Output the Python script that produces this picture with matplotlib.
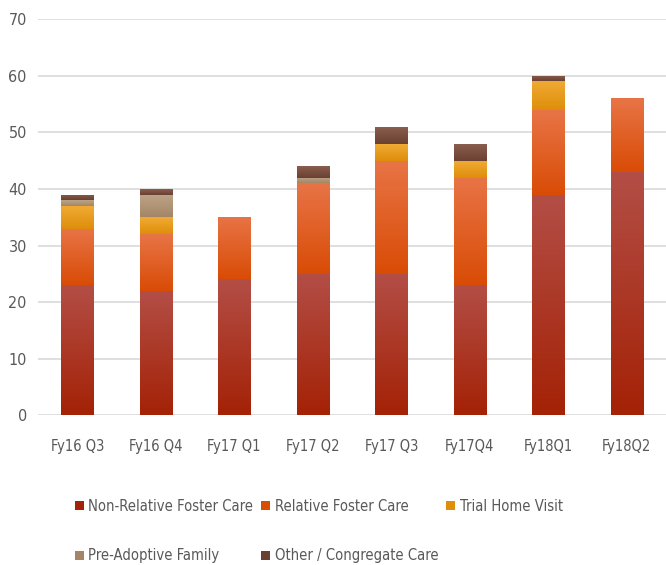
import matplotlib.pyplot as plt
import numpy as np
from matplotlib.colors import to_rgb

quarters = ["Fy16 Q3", "Fy16 Q4", "Fy17 Q1", "Fy17 Q2", "Fy17 Q3", "Fy17Q4", "Fy18Q1", "Fy18Q2"]
non_relative = [23, 22, 24, 25, 25, 23, 39, 43]
relative = [10, 10, 11, 16, 20, 19, 15, 13]
trial_home = [4, 3, 0, 0, 3, 3, 5, 0]
pre_adoptive = [1, 4, 0, 1, 0, 0, 0, 0]
other_congregate = [1, 1, 0, 2, 3, 3, 1, 0]

series = [
    ("Non-Relative Foster Care", non_relative, "#a42206", "#b34e46"),
    ("Relative Foster Care", relative, "#d94c06", "#e87446"),
    ("Trial Home Visit", trial_home, "#de8e0a", "#f0aa34"),
    ("Pre-Adoptive Family", pre_adoptive, "#a48666", "#bca488"),
    ("Other / Congregate Care", other_congregate, "#6a4032", "#8a5e4e"),
]

plt.rcParams['font.family'] = ['DejaVu Sans']
plt.rcParams['font.stretch'] = 'condensed'

fig = plt.figure(figsize=(6.66, 5.65), dpi=100)
ax = fig.add_axes([0.057, 0.265, 0.943, 0.701])

x = np.arange(len(quarters))
bottom = np.zeros(len(quarters))
handles = []
for name, vals, dark, light in series:
    vals = np.array(vals, dtype=float)
    bars = ax.bar(x, vals, 0.41, bottom=bottom, color=dark, label=name,
                  linewidth=0, zorder=2)
    handles.append(bars)
    # gradient inside each segment, darker at the bottom
    c0 = np.array(to_rgb(dark))
    c1 = np.array(to_rgb(light))
    t = np.linspace(0, 1, 64)[:, None]
    grad = (c0 * (1 - t) + c1 * t)[:, None, :]
    for rect in bars:
        h = rect.get_height()
        if h <= 0:
            continue
        x0, y0 = rect.get_x(), rect.get_y()
        im = ax.imshow(grad, extent=[x0, x0 + rect.get_width(), y0, y0 + h],
                       origin='lower', aspect='auto', zorder=2.5,
                       interpolation='bilinear')
        im.set_clip_path(rect)
    bottom += vals

ax.set_xlim(-0.5, len(quarters) - 0.5)
ax.set_ylim(0, 70)
ax.set_yticks(range(0, 71, 10))
ax.set_xticks(x)
ax.set_xticklabels(quarters)
ax.yaxis.grid(True, color="#d9d9d9", linewidth=1.2, zorder=0)
ax.set_axisbelow(True)
for s in ax.spines.values():
    s.set_visible(False)
ax.tick_params(length=0, labelsize=10.5, colors="#595959")
ax.tick_params(axis='y', labelsize=11.5, pad=8)
ax.tick_params(axis='x', pad=17)

# column-wise fill, so reorder to get NR, R, THV on row one
order = [0, 3, 1, 4, 2]
fig.legend(handles=[handles[i] for i in order], loc='upper left',
           bbox_to_anchor=(75 / 666, 0.117), ncol=3, frameon=False,
           fontsize=10.6, handlelength=0.6, handleheight=0.6,
           handletextpad=0.3, columnspacing=0.55, labelspacing=2.35,
           borderpad=0, borderaxespad=0, labelcolor="#595959")

fig.savefig("out.png", dpi=100)
